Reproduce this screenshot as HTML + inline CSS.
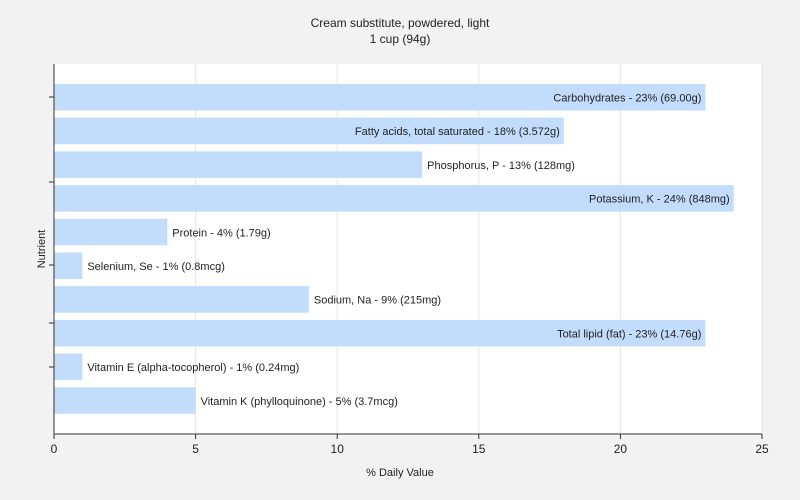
<!DOCTYPE html>
<html><head><meta charset="utf-8"><style>
body{margin:0;background:#f2f2f2;font-family:"Liberation Sans",Arial,sans-serif;overflow:hidden;}
svg{display:block;}
</style></head><body>
<svg width="800" height="500" xmlns="http://www.w3.org/2000/svg">
<rect width="800" height="500" fill="#f2f2f2"/>
<text x="400" y="27" text-anchor="middle" font-size="12" fill="#222">Cream substitute, powdered, light</text>
<text x="400" y="43" text-anchor="middle" font-size="12" fill="#222">1 cup (94g)</text>
<rect x="54" y="64" width="708" height="370" fill="#fff"/>
<g id="grid"></g><g id="bars"></g><g id="axes"></g>
<text x="400" y="476" text-anchor="middle" font-size="11" fill="#222">% Daily Value</text>
<text transform="translate(45,249) rotate(-90)" text-anchor="middle" font-size="11" fill="#222">Nutrient</text>
</svg>
<script>
const categories=["Carbohydrates","Fatty acids, total saturated","Phosphorus, P","Potassium, K","Protein","Selenium, Se","Sodium, Na","Total lipid (fat)","Vitamin E (alpha-tocopherol)","Vitamin K (phylloquinone)"];
const values=[23,18,13,24,4,1,9,23,1,5];
const amounts=["69.00g","3.572g","128mg","848mg","1.79g","0.8mcg","215mg","14.76g","0.24mg","3.7mcg"];
const xTicks=[0,5,10,15,20,25];
const NS="http://www.w3.org/2000/svg";
const x0=54,x1=762,xmax=25;
function xs(v){return x0+(x1-x0)*v/xmax;}
function ys(i){return 80.5+i*33.7;}
function mk(t,a,p){const e=document.createElementNS(NS,t);for(const k in a)e.setAttribute(k,a[k]);p.appendChild(e);return e;}
const grid=document.getElementById('grid'),bars=document.getElementById('bars'),axes=document.getElementById('axes');
xTicks.forEach(t=>{
  if(t>0){const g=mk('line',{x1:xs(t),x2:xs(t),y1:64,y2:434,stroke:'#e6e6e6'},grid);
  
  }
  const tk=mk('line',{x1:xs(t),x2:xs(t),y1:434,y2:439,stroke:'#333'},axes);
  
  
  const lb=mk('text',{x:xs(t),y:453,'text-anchor':'middle','font-size':12,fill:'#222'},axes);
  lb.textContent=t;
  
  
});
categories.forEach((c,i)=>{
  const y=ys(i);
  const r=mk('rect',{x:x0,y:y+3.5,width:xs(values[i])-x0,height:26.5,fill:'#c2dcfc'},bars);
  
  
  const label=c+' - '+values[i]+'% ('+amounts[i]+')';
  const inside=values[i]>=15;
  const t=mk('text',{x:inside?xs(values[i])-4:xs(values[i])+5,y:y+21,'text-anchor':inside?'end':'start','font-size':11,fill:'#222'},bars);
  t.textContent=label;
  
  
});
[97,182,265,323,367].forEach(y=>{
  const tk=mk('line',{x1:49,x2:54,y1:y,y2:y,stroke:'#333'},axes);
  
  
});
const ya=mk('line',{x1:54,x2:54,y1:64,y2:434,stroke:'#333'},axes);


const xa=mk('line',{x1:54,x2:762,y1:434,y2:434,stroke:'#333'},axes);


</script>
</body></html>
